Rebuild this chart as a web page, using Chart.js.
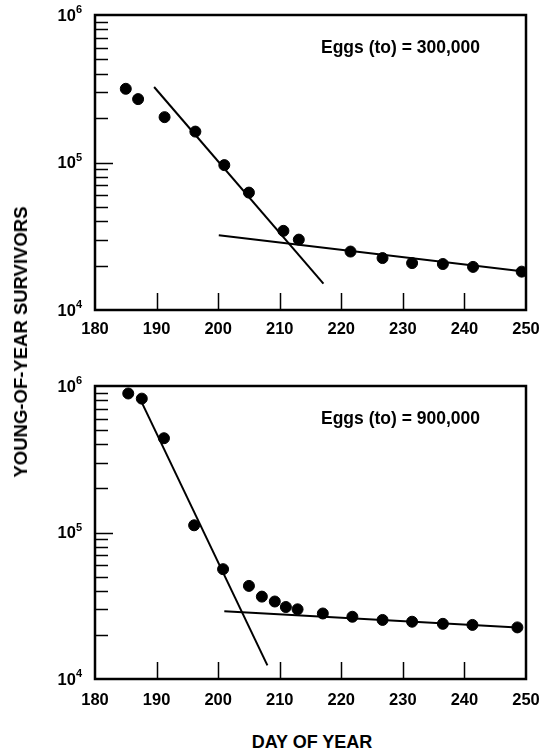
<!DOCTYPE html>
<html>
<head>
<meta charset="utf-8">
<script src="https://cdn.jsdelivr.net/npm/chart.js@4/dist/chart.umd.min.js"></script>
<style>
body{margin:0;background:#fff;width:553px;height:752px;position:relative;overflow:hidden;font-family:'Liberation Sans',Arial,sans-serif;color:#000}
.box{position:absolute;left:0;width:553px}
#top_box{top:0;height:340px}
#bottom_box{top:370px;height:352px}
#y_title{position:absolute;left:21px;top:342px;transform:translate(-50%,-50%) rotate(-90deg);white-space:nowrap;font-size:18.5px;font-weight:bold}
#x_title{position:absolute;left:312px;top:742px;transform:translate(-50%,-50%);white-space:nowrap;font-size:18px;font-weight:bold}
</style>
</head>
<body>
<div class="box" id="top_box"><canvas id="top_chart" width="553" height="340"></canvas></div>
<div class="box" id="bottom_box"><canvas id="bottom_chart" width="553" height="352"></canvas></div>
<div id="y_title">YOUNG-OF-YEAR SURVIVORS</div>
<div id="x_title">DAY OF YEAR</div>
<script>
// upper panel, eggs = 300,000
let days_300=[185,187,191.3,196.3,201,205,210.6,213.1,221.5,226.7,231.5,236.5,241.4,249.3]
let surv_300=[316000,269000,203000,162000,96000,62500,34400,30000,24900,22500,20800,20500,19600,18200]
let fit_early_days_300=[189.6,217.1]
let fit_early_surv_300=[325000,15100]
let fit_late_days_300=[200.1,250]
let fit_late_surv_300=[32100,18200]

// lower panel, eggs = 900,000
let days_900=[185.4,187.6,191.2,196.1,200.8,205,207.1,209.2,211,212.9,217,221.8,226.7,231.5,236.5,241.3,248.6]
let surv_900=[889000,820000,440000,112000,56200,43200,36500,33800,31000,29900,28000,26600,25300,24600,23800,23400,22500]
let fit_early_days_900=[187.3,208]
let fit_early_surv_900=[820000,12400]
let fit_late_days_900=[201,248.6]
let fit_late_surv_900=[29000,22500]

let x_ticks=[180,190,200,210,220,230,240,250]
let y_ticks=[10000,100000,1000000]
let font_name="'Liberation Sans', Arial, sans-serif"

Chart.defaults.color='#000'
Chart.defaults.font.family=font_name

function pts(xs,ys) {
    return xs.map((x,i)=>({x:x,y:ys[i]}))
}

// box around the plot, inward ticks, 10^n labels and the eggs note
let frame={
    id:'frame',
    afterDraw(chart,args,opts) {
        let c=chart.ctx
        let a=chart.chartArea
        let xs=chart.scales.x
        let ys=chart.scales.y
        c.save()
        c.strokeStyle='#000'
        c.lineWidth=1.5
        c.beginPath()
        x_ticks.slice(1,-1).forEach(v => {
            let px=Math.round(xs.getPixelForValue(v))+0.5
            c.moveTo(px,a.bottom)
            c.lineTo(px,a.bottom-17)
        })
        ;[10000,100000].forEach(d => {
            for (let k=2;k<=9;k++) {
                let py=Math.round(ys.getPixelForValue(k*d))+0.5
                c.moveTo(a.left,py)
                c.lineTo(a.left+13,py)
            }
        })
        let p5=Math.round(ys.getPixelForValue(100000))+0.5
        c.moveTo(a.left,p5)
        c.lineTo(a.left+18,p5)
        c.stroke()
        c.lineWidth=2.5
        c.strokeRect(a.left,a.top,a.right-a.left,a.bottom-a.top)

        c.fillStyle='#000'
        c.textBaseline='middle'
        c.textAlign='right'
        y_ticks.forEach(v => {
            let py=ys.getPixelForValue(v)
            let e=String(Math.round(Math.log10(v)))
            c.font='bold 11px '+font_name
            let ew=c.measureText(e).width
            c.fillText(e,a.left-13,py-5)
            c.font='bold 16.5px '+font_name
            c.fillText('10',a.left-13-ew,py+1)
        })

        c.textAlign='left'
        c.font='bold 17.5px '+font_name
        c.fillText(opts.text,a.left+226,a.top+33)
        c.restore()
    }
}

function make(canvas,days,surv,ed,es,ld,ls,note,pad_top,x_h,lab_pad) {
    return new Chart(canvas,{
        type:'scatter',
        data:{
            datasets:[
                {data:pts(days,surv),backgroundColor:'#000',borderColor:'#000',pointRadius:5.5,pointHoverRadius:5.5},
                {type:'line',data:pts(ed,es),borderColor:'#000',borderWidth:2,pointRadius:0,fill:false},
                {type:'line',data:pts(ld,ls),borderColor:'#000',borderWidth:2,pointRadius:0,fill:false}
            ]
        },
        options:{
            responsive:false,
            animation:false,
            layout:{padding:{top:pad_top,right:27,left:0,bottom:0}},
            plugins:{legend:{display:false},tooltip:{enabled:false},frame:{text:note}},
            scales:{
                x:{
                    type:'linear',min:180,max:250,
                    afterBuildTicks:s=>{s.ticks=x_ticks.map(v=>({value:v}))},
                    afterFit:s=>{s.height=x_h},
                    grid:{display:false,drawTicks:false},border:{display:false},
                    ticks:{padding:lab_pad,maxRotation:0,font:{size:16.5,weight:'bold'}}
                },
                y:{
                    type:'logarithmic',min:10000,max:1000000,
                    afterBuildTicks:s=>{s.ticks=y_ticks.map(v=>({value:v}))},
                    afterFit:s=>{s.width=95},
                    grid:{display:false,drawTicks:false},border:{display:false},
                    ticks:{display:false}
                }
            }
        },
        plugins:[frame]
    })
}

make(document.getElementById('top_chart'),days_300,surv_300,fit_early_days_300,fit_early_surv_300,fit_late_days_300,fit_late_surv_300,'Eggs (to) = 300,000',15,30,9.5)
make(document.getElementById('bottom_chart'),days_900,surv_900,fit_early_days_900,fit_early_surv_900,fit_late_days_900,fit_late_surv_900,'Eggs (to) = 900,000',16,43,12)
</script>
</body>
</html>
